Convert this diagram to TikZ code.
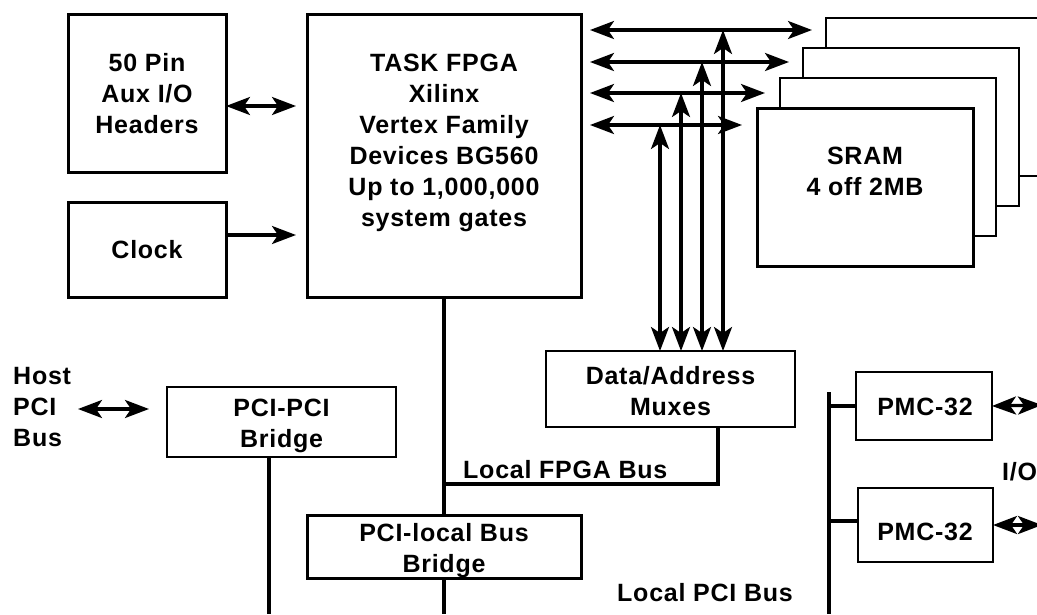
\documentclass[tikz,border=0pt]{standalone}
\usepackage{fontspec}
\setmainfont{Liberation Sans}[LetterSpace=3]
\usetikzlibrary{arrows.meta}
\begin{document}
\begin{tikzpicture}[x=1pt,y=-1pt,
  bigtip/.tip={Stealth[length=24pt,width=18pt,inset=6pt]},
  thickbox/.style={draw, line width=3pt, fill=white, inner sep=0pt, outer sep=0pt},
  thinbox/.style={draw, line width=1.6pt, fill=white, inner sep=0pt, outer sep=0pt},
  lbl/.style={font=\fontsize{25pt}{31pt}\selectfont\bfseries, align=center, inner sep=0pt},
  bus/.style={line width=3.5pt, line join=miter},
  dbl/.style={line width=3.2pt, bigtip-bigtip},
  sgl/.style={line width=3.2pt, -bigtip}]
\useasboundingbox (0,0) rectangle (1037,614);
\clip (0,0) rectangle (1037,614);

% boxes
\node[thickbox, minimum width=158pt, minimum height=158pt] (aux) at (147,93) {};
\node[thickbox, minimum width=158pt, minimum height=95pt] (clock) at (147,249.5) {};
\node[thickbox, minimum width=274pt, minimum height=283pt] (fpga) at (444,155.5) {};

\node[thinbox, minimum width=216pt, minimum height=158pt] (sram4) at (934,97) {};
\node[thinbox, minimum width=216pt, minimum height=158pt] (sram3) at (911,127) {};
\node[thinbox, minimum width=216pt, minimum height=158pt] (sram2) at (888,157) {};
\node[thickbox, minimum width=216pt, minimum height=158pt] (sram) at (865,187) {};

\node[thinbox, minimum width=249pt, minimum height=76pt] (muxes) at (670.5,389) {};
\node[thinbox, minimum width=229pt, minimum height=70pt] (pcipci) at (281.5,422) {};
\node[thickbox, minimum width=274pt, minimum height=63pt] (pcilocal) at (444,546.5) {};
\node[thinbox, minimum width=136pt, minimum height=68pt] (pmca) at (924,406) {};
\node[thinbox, minimum width=135pt, minimum height=74pt] (pmcb) at (925.5,525) {};

% texts
\node[lbl] (auxt) at (147,93.5) {50 Pin\\Aux I/O\\Headers};
\node[lbl] (clockt) at (147,250) {Clock};
\node[lbl] (fpgat) at (444,142.5) {TASK FPGA\\Xilinx\\Vertex Family\\Devices BG560\\Up to 1,000,000\\system gates};
\node[lbl] (sramt) at (865,171.5) {SRAM\\4 off 2MB};
\node[lbl] (muxt) at (670.5,391) {Data/Address\\Muxes};
\node[lbl, align=left, anchor=west] (host) at (13,407.5) {Host\\PCI\\Bus};
\node[lbl] (pcipcit) at (281.5,426) {PCI-PCI\\Bridge};
\node[lbl] (pcilocalt) at (444,550.5) {PCI-local Bus\\Bridge};
\node[lbl, anchor=west] (lfbt) at (463,470) {Local FPGA Bus};
\node[lbl, anchor=west] (lpbt) at (617,593) {Local PCI Bus};
\node[lbl] (pmcat) at (925,407) {PMC-32};
\node[lbl] (pmcbt) at (925,532) {PMC-32};
\node[lbl, anchor=west] (iot) at (1002,472) {I/O};

% coordinates for free ends
\coordinate (auxA) at (296,106);
\coordinate (clkA) at (296,235);
\coordinate (r1L) at (590,30);  \coordinate (r1R) at (812,30);
\coordinate (r2L) at (590,62);  \coordinate (r2R) at (789,62);
\coordinate (r3L) at (590,93);  \coordinate (r3R) at (765,93);
\coordinate (r4L) at (590,125); \coordinate (r4R) at (742,125);
\coordinate (v1) at (660,125);
\coordinate (v2) at (681,93);
\coordinate (v3) at (702,62);
\coordinate (v4) at (723,30);
\coordinate (lfbL) at (444,484);
\coordinate (lfbR) at (718,484);
\coordinate (fpgaBot) at (444,614);
\coordinate (ppBot) at (269,614);
\coordinate (hostL) at (78,409);
\coordinate (hostR) at (149,409);
\coordinate (pmcTop) at (829,392);
\coordinate (pmcBot) at (829,614);
\coordinate (ioA) at (1042,405);
\coordinate (ioB) at (1042,525);

% connectors
\draw[dbl] (aux.east |- auxA) -- (auxA);
\draw[sgl] (clock.east |- clkA) -- (clkA);
\draw[dbl] (r1L) -- (r1R);
\draw[dbl] (r2L) -- (r2R);
\draw[dbl] (r3L) -- (r3R);
\draw[dbl] (r4L) -- (r4R);
\draw[dbl] (v1 |- muxes.north) -- (v1);
\draw[dbl] (v2 |- muxes.north) -- (v2);
\draw[dbl] (v3 |- muxes.north) -- (v3);
\draw[dbl] (v4 |- muxes.north) -- (v4);

\draw[bus] (fpga.south) -- (pcilocal.north);
\draw[bus] (pcilocal.south) -- (fpgaBot);
\draw[bus] (lfbR |- muxes.south) -- (lfbR) -- (lfbL);
\draw[bus] (ppBot |- pcipci.south) -- (ppBot);
\draw[dbl] (hostL) -- (hostR);
\draw[bus] (pmcTop) -- (pmcBot);
\draw[bus] (pmcTop |- pmca.west) -- (pmca.west);
\draw[bus] (pmcTop |- 0,521) -- (pmcb.west |- 0,521);
\draw[dbl] (pmca.east) -- (ioA);
\draw[dbl] (pmcb.east) -- (ioB);
\end{tikzpicture}
\end{document}
